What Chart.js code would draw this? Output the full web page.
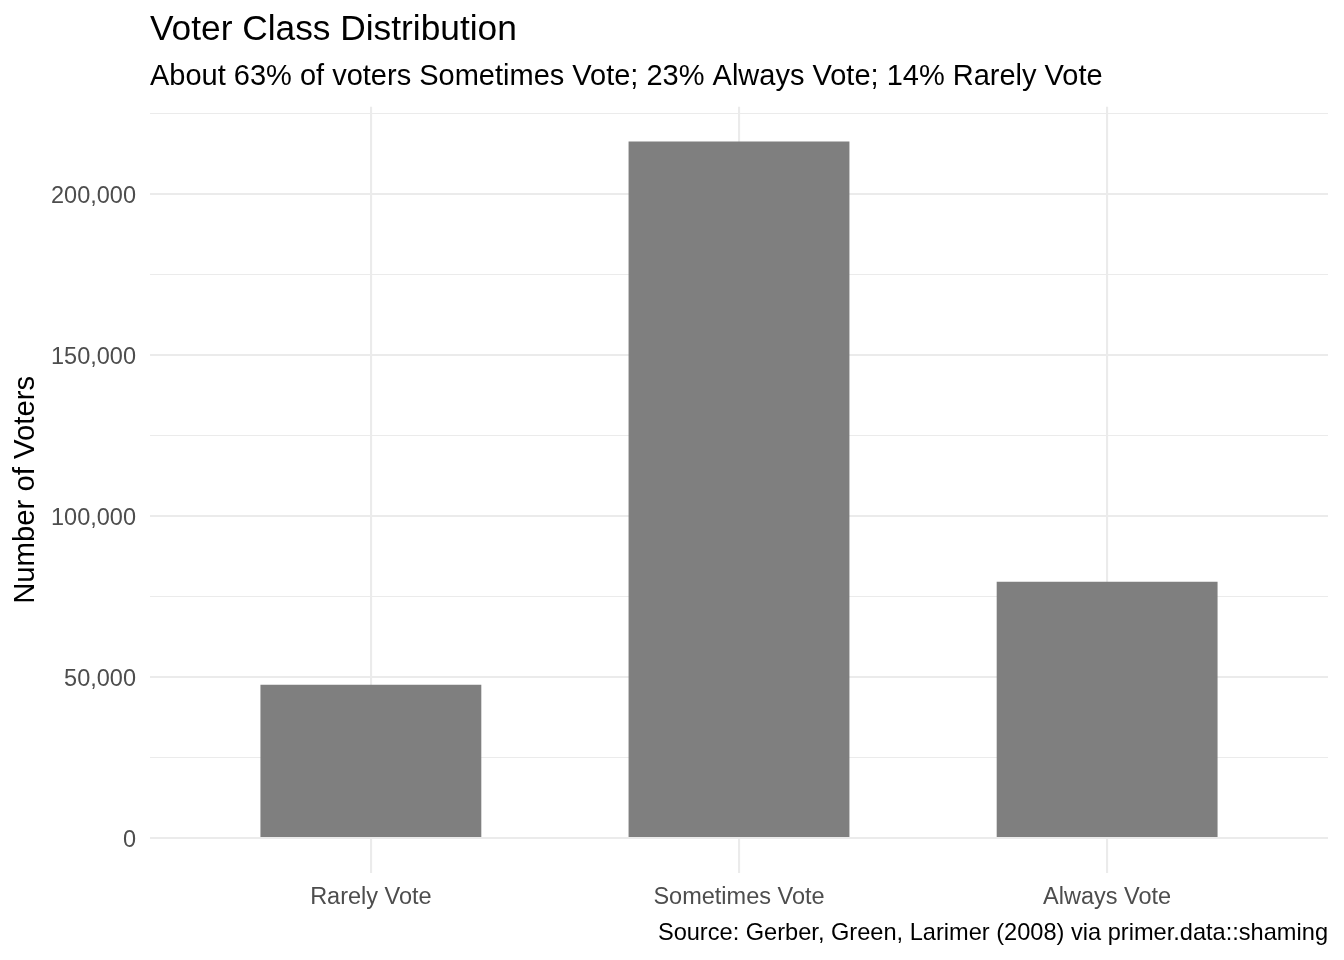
<!DOCTYPE html>
<html>
<head>
<meta charset="utf-8">
<title>Voter Class Distribution</title>
<script src="https://cdn.jsdelivr.net/npm/chart.js@4"></script>
<style>
  html, body { margin: 0; padding: 0; background: #fff; }
  #wrap { width: 1344px; height: 960px; position: relative; }
</style>
</head>
<body>
<div id="wrap"><canvas id="myChart"></canvas></div>
<script>
// data
const voterClasses = ['Rarely Vote', 'Sometimes Vote', 'Always Vote'];
const voterCounts = [47600, 216200, 79600];
const classPositions = [1, 2, 3];

// y grid: labelled every 50,000, minor lines in between
const yTickValues = [0, 25000, 50000, 75000, 100000, 125000, 150000, 175000, 200000, 225000];
const yTickLabels = ['0', '', '50,000', '', '100,000', '', '150,000', '', '200,000', ''];

const fontFamily = '"Liberation Sans", Arial, Helvetica, sans-serif';

// ggplot style expansion: 5% on the value axis, 0.6 on the discrete axis
const topValue = Math.max(...voterCounts);
const yMin = -0.05 * topValue;
const yMax = 1.05 * topValue;

const points = classPositions.map((pos, i) => ({ x: pos, y: voterCounts[i] }));

const graphArea = document.getElementById('myChart').getContext('2d');

const myChart = new Chart(graphArea, {
  type: 'bar',
  data: {
    datasets: [{
      label: 'Number of Voters',
      data: points,
      backgroundColor: '#7F7F7F',
      borderWidth: 0,
      categoryPercentage: 1,
      barPercentage: 0.6
    }]
  },
  options: {
    responsive: true,
    maintainAspectRatio: false,
    animation: false,
    layout: { padding: { left: 0, right: 16, top: 0, bottom: 0 } },
    plugins: {
      legend: { display: false },
      tooltip: { enabled: false },
      title: {
        display: true,
        text: 'Voter Class Distribution',
        align: 'start',
        fullSize: false,
        color: '#000',
        font: { family: fontFamily, size: 35.3, weight: 'normal' },
        padding: { top: 9, bottom: 8 }
      },
      subtitle: {
        display: true,
        text: 'About 63% of voters Sometimes Vote; 23% Always Vote; 14% Rarely Vote',
        align: 'start',
        fullSize: false,
        color: '#000',
        font: { family: fontFamily, size: 29, weight: 'normal' },
        padding: { top: 0, bottom: 12.6 }
      }
    },
    scales: {
      x: {
        type: 'linear',
        min: 0.4,
        max: 3.6,
        offset: false,
        border: { display: false },
        grid: { offset: false, color: '#EBEBEB', lineWidth: 2.1, drawTicks: false },
        afterBuildTicks: (scale) => {
          scale.ticks = classPositions.map((v) => ({ value: v }));
        },
        ticks: {
          autoSkip: false,
          maxRotation: 0,
          padding: 10,
          color: '#4D4D4D',
          font: { family: fontFamily, size: 23.5 },
          callback: (value) => {
            const i = classPositions.indexOf(value);
            return i >= 0 ? voterClasses[i] : '';
          }
        },
        title: {
          display: true,
          text: 'Source: Gerber, Green, Larimer (2008) via primer.data::shaming',
          align: 'end',
          color: '#000',
          font: { family: fontFamily, size: 23.6 },
          padding: { top: 0, bottom: 12 }
        },
        afterFit: (scale) => { scale.height = 87; }
      },
      y: {
        min: yMin,
        max: yMax,
        border: { display: false },
        grid: {
          color: '#EBEBEB',
          drawTicks: false,
          lineWidth: (ctx) => (ctx.tick && yTickLabels[yTickValues.indexOf(ctx.tick.value)] !== '' ? 2.1 : 1.1)
        },
        afterBuildTicks: (scale) => {
          scale.ticks = yTickValues.map((v) => ({ value: v }));
        },
        ticks: {
          autoSkip: false,
          padding: 14,
          labelOffset: 2.5,
          color: '#4D4D4D',
          font: { family: fontFamily, size: 23.5 },
          callback: (value) => {
            const i = yTickValues.indexOf(value);
            return i >= 0 ? yTickLabels[i] : '';
          }
        },
        title: {
          display: true,
          text: 'Number of Voters',
          color: '#000',
          font: { family: fontFamily, size: 29.3 },
          padding: { top: 8.7, bottom: 0 }
        },
        afterFit: (scale) => { scale.width = 150; }
      }
    }
  }
});
</script>
</body>
</html>
